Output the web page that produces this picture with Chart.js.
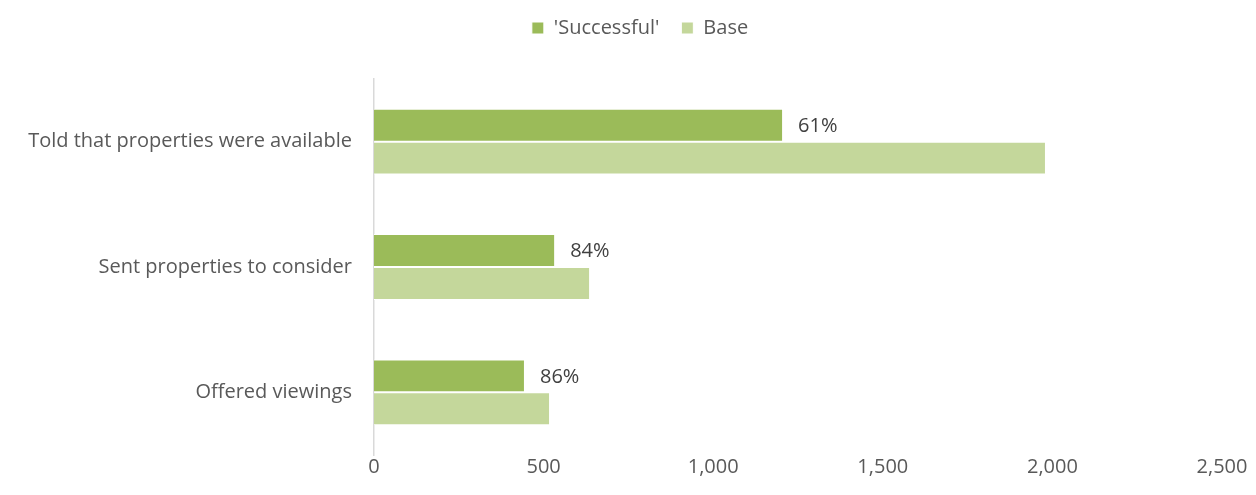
<!DOCTYPE html>
<html>
<head>
<meta charset="utf-8">
<script src="https://cdn.jsdelivr.net/npm/chart.js@4/dist/chart.umd.min.js"></script>
<style>
  html, body { margin: 0; padding: 0; background: #fff; }
  #wrap { width: 1256px; height: 495px; }
</style>
</head>
<body>
<div id="wrap"><canvas id="chart"></canvas></div>
<script>
const categories = ['Told that properties were available', 'Sent properties to consider', 'Offered viewings'];
const successful = [1206, 534, 445];
const base = [1981, 637, 519];
const xTicks = [0, 500, 1000, 1500, 2000, 2500];

const FONT = '"Open Sans", sans-serif';
const FONT_SIZE = 20;

// percentage label at the end of each 'Successful' bar
const rateLabels = {
  id: 'rateLabels',
  afterDatasetsDraw(chart) {
    const { ctx } = chart;
    const meta = chart.getDatasetMeta(0);
    ctx.save();
    ctx.font = `${FONT_SIZE}px ${FONT}`;
    ctx.fillStyle = '#404040';
    ctx.textAlign = 'left';
    ctx.textBaseline = 'middle';
    meta.data.forEach((bar, i) => {
      const pct = Math.round(successful[i] / base[i] * 100);
      ctx.fillText(`${pct}%`, bar.x + 15, bar.y + 1);
    });
    ctx.restore();
  }
};

// more room under the legend, and legend centred a bit further right
const legendPlacement = {
  id: 'legendPlacement',
  beforeInit(chart) {
    const fit = chart.legend.fit;
    chart.legend.fit = function () {
      fit.call(this);
      this.height += 27;
    };
  },
  afterLayout(chart) {
    const lg = chart.legend;
    lg.left += 58;
    lg.top -= 4;
    lg.bottom -= 4;
  }
};

new Chart(document.getElementById('chart'), {
  type: 'bar',
  data: {
    labels: categories,
    datasets: [
      { label: "'Successful'", data: successful, backgroundColor: '#9BBB59', borderColor: '#ffffff', borderWidth: 1 },
      { label: 'Base', data: base, backgroundColor: '#C4D79B', borderColor: '#ffffff', borderWidth: 1 },
    ]
  },
  options: {
    indexAxis: 'y',
    responsive: true,
    maintainAspectRatio: false,
    animation: false,
    layout: { padding: { top: 0, right: 34, bottom: 8, left: 0 } },
    datasets: { bar: { barPercentage: 1, categoryPercentage: 0.525 } },
    scales: {
      x: {
        min: 0,
        max: 2500,
        afterBuildTicks: (scale) => { scale.ticks = xTicks.map(v => ({ value: v })); },
        afterFit: (scale) => { scale.height = 32; },
        grid: { display: false, drawTicks: false },
        border: { display: false },
        ticks: {
          padding: 0,
          color: '#595959',
          font: { family: FONT, size: FONT_SIZE },
          callback: (v) => v.toLocaleString('en-US'),
          maxRotation: 0
        }
      },
      y: {
        afterFit: (scale) => { scale.width = 374; },
        grid: { display: false, drawTicks: false },
        border: { display: true, color: '#D9D9D9', width: 1.5 },
        ticks: {
          padding: 22,
          color: '#595959',
          font: { family: FONT, size: FONT_SIZE }
        }
      }
    },
    plugins: {
      legend: {
        position: 'top',
        labels: {
          boxWidth: 12,
          boxHeight: 12,
          padding: 22,
          color: '#595959',
          font: { family: FONT, size: FONT_SIZE }
        }
      },
      tooltip: { enabled: false }
    }
  },
  plugins: [rateLabels, legendPlacement]
});
</script>
</body>
</html>
